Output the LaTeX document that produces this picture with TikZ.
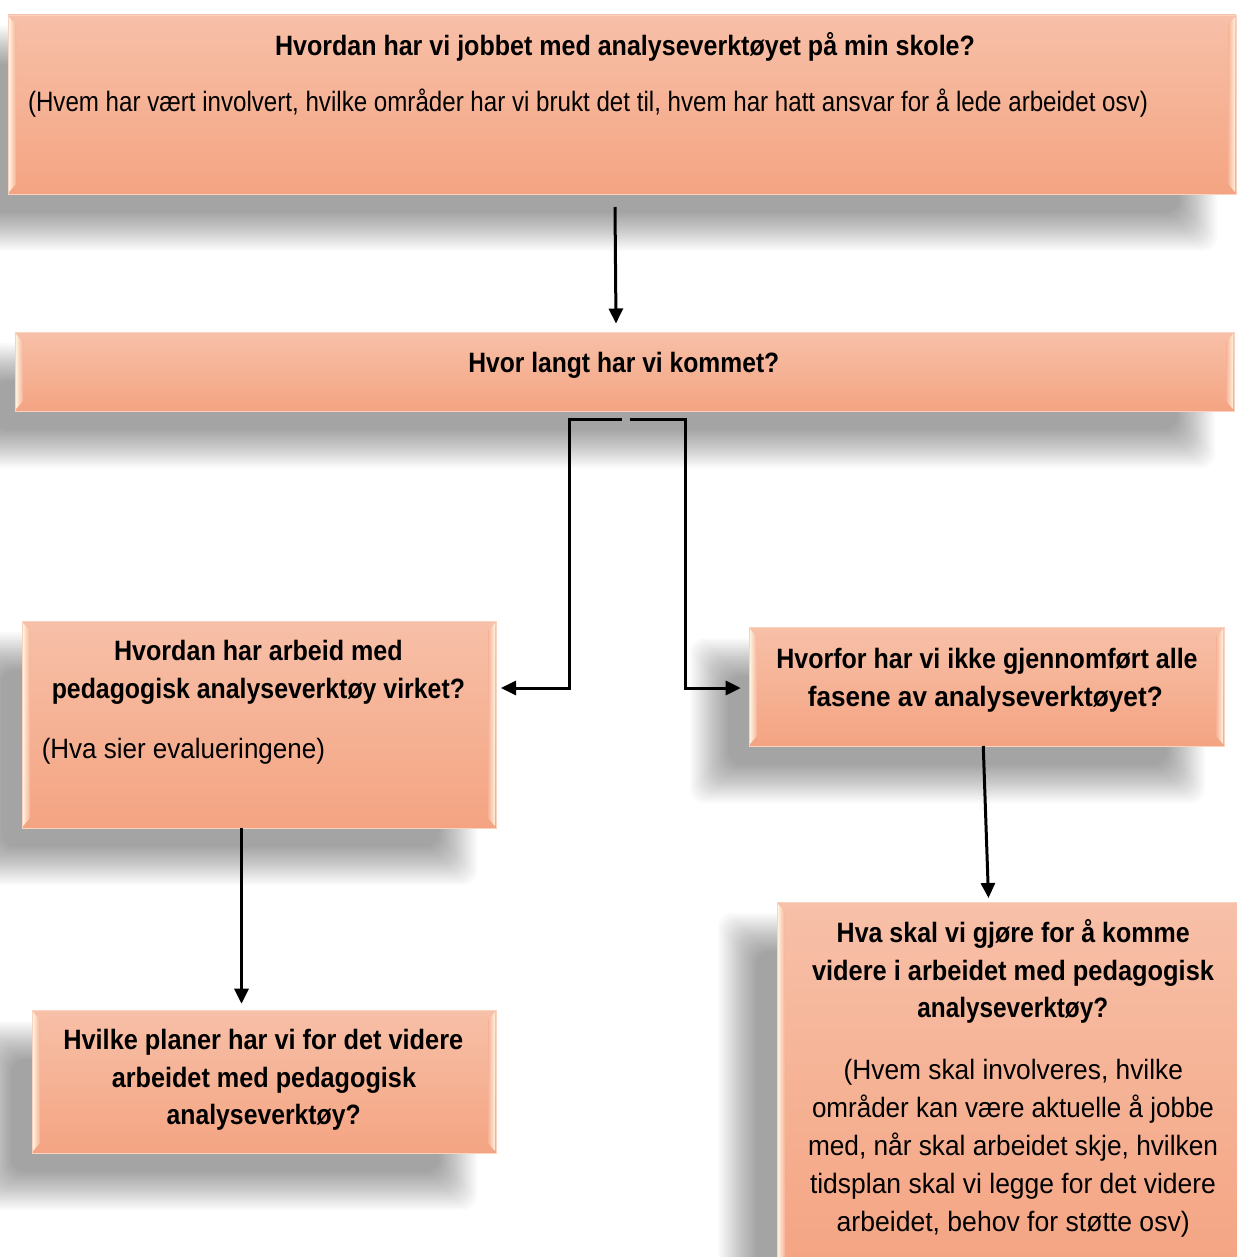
\documentclass[tikz,border=0pt]{standalone}
\usepackage{fontspec}
\setmainfont{Liberation Sans}
\usepackage{graphicx}
\usetikzlibrary{arrows.meta,calc}

\definecolor{boxtop}{HTML}{F7C0A8}
\definecolor{boxbot}{HTML}{F4A482}
\definecolor{boxmid}{HTML}{F6B295}
\definecolor{bevlight}{HTML}{FFF1DE}
\definecolor{boxedge}{HTML}{FAD2C0}

\newcommand\fitw[2]{\setbox0=\hbox{#2}\edef\fitwd{\the\wd0}\pgfmathsetmacro\fitfac{#1/\fitwd}\scalebox{\fitfac}[1]{\box0}}

\newcommand\boxshadow[4]{%
  \foreach \k in {0,...,19}{%
    \pgfmathsetmacro\e{19-2*\k}%
    \fill[black,opacity=0.018,rounded corners=14pt] ({#1-40-\e},{#2+30-\e}) rectangle ({#3-38+\e},{#4+38+\e});
  }}

\newcommand\flowbox[5]{%
  \node[flow, minimum width={(#4-#2)*1pt}, minimum height={(#5-#3)*1pt}, anchor=north west] (#1) at (#2,#3) {};
  \shade[left color=bevlight, right color=boxmid] ({#2+1},{#3+2}) -- ({#2+8},{#3+10}) -- ({#2+8},{#5-10}) -- ({#2+1},{#5-2}) -- cycle;
  \shade[left color=boxmid, right color=bevlight] ({#4-1},{#3+2}) -- ({#4-8},{#3+10}) -- ({#4-8},{#5-10}) -- ({#4-1},{#5-2}) -- cycle;
}

\newcommand\tline[6]{\node[#1] (#2) at (#3,#4) {\fitw{#5}{#6}};}

\tikzset{
  flow/.style={rectangle, inner sep=0pt, outer sep=0pt, top color=boxtop, bottom color=boxbot, draw=boxedge, line width=0.8pt},
  hd/.style={inner sep=0pt, anchor=base, font=\fontsize{28}{30}\selectfont\bfseries},
  bd/.style={inner sep=0pt, anchor=base, font=\fontsize{28}{30}\selectfont},
  conn/.style={line width=3pt, -{Triangle[length=15pt,width=14pt]}}
}

\begin{document}
\begin{tikzpicture}[x=1pt,y=-1pt]
\useasboundingbox (0,0) rectangle (1236,1257);
\fill[white] (0,0) rectangle (1236,1257);

% shadows
\boxshadow{8}{15}{1236}{194}
\boxshadow{15}{332}{1234}{411}
\boxshadow{22}{621}{496}{828}
\boxshadow{749}{627}{1224}{746}
\boxshadow{32}{1010}{496}{1153}
\boxshadow{777}{902}{1250}{1275}

% boxes
\flowbox{b1}{8}{15}{1236}{194}
\flowbox{b2}{15}{332}{1234}{411}
\flowbox{b3}{22}{621}{496}{828}
\flowbox{b4}{749}{627}{1224}{746}
\flowbox{b5}{32}{1010}{496}{1153}
\flowbox{b6}{777}{902}{1250}{1275}

% texts
\tline{hd}{t1a}{625}{55.5}{700}{Hvordan har vi jobbet med analyseverktøyet på min skole?}
\tline{bd}{t1b}{588}{112}{1120}{(Hvem har vært involvert, hvilke områder har vi brukt det til, hvem har hatt ansvar for å lede arbeidet osv)}
\tline{hd}{t2}{623.8}{372}{311}{Hvor langt har vi kommet?}
\tline{hd}{t3a}{258.4}{660.5}{288.7}{Hvordan har arbeid med}
\tline{hd}{t3b}{258.4}{698}{413.3}{pedagogisk analyseverktøy virket?}
\tline{bd}{t3c}{183.4}{758}{283.3}{(Hva sier evalueringene)}
\tline{hd}{t4a}{987}{668.3}{421.3}{Hvorfor har vi ikke gjennomført alle}
\tline{hd}{t4b}{985.3}{706.5}{355}{fasene av analyseverktøyet?}
\tline{hd}{t5a}{263.3}{1049.7}{400}{Hvilke planer har vi for det videre}
\tline{hd}{t5b}{263.9}{1087}{304.3}{arbeidet med pedagogisk}
\tline{hd}{t5c}{263.7}{1124.5}{194}{analyseverktøy?}
\tline{hd}{t6a}{1013.2}{942.7}{353}{Hva skal vi gjøre for å komme}
\tline{hd}{t6b}{1013}{980}{402}{videre i arbeidet med pedagogisk}
\tline{hd}{t6c}{1012.8}{1017}{191}{analyseverktøy?}
\tline{bd}{t6d}{1013.3}{1079}{339.5}{(Hvem skal involveres, hvilke}
\tline{bd}{t6e}{1013}{1117}{402}{områder kan være aktuelle å jobbe}
\tline{bd}{t6f}{1013}{1155}{410}{med, når skal arbeidet skje, hvilken}
\tline{bd}{t6g}{1013}{1193}{406}{tidsplan skal vi legge for det videre}
\tline{bd}{t6h}{1013.2}{1231}{353}{arbeidet, behov for støtte osv)}

% connectors
\draw[conn] ([xshift=-7pt,yshift=-13pt]b1.south) -- ([xshift=-8.5pt,yshift=8.5pt]b2.north);
\coordinate (l1) at ([xshift=5pt,yshift=36.5pt]b3.east);
\coordinate (r1) at ([xshift=-8.3pt,yshift=-1.5pt]b4.west);
\draw[conn] ([xshift=-3pt,yshift=-8.5pt]b2.south) -| ($(l1)+(68,0)$) -- (l1);
\draw[conn] ([xshift=5pt,yshift=-8.5pt]b2.south) -| ($(r1)+(-55.7,0)$) -- (r1);
\draw[conn] ([xshift=-17.5pt]b3.south) -- ([xshift=-22.5pt,yshift=6.3pt]b5.north);
\draw[conn] ([xshift=-3.25pt]b4.south) -- ([xshift=-25pt,yshift=4pt]b6.north);
\end{tikzpicture}
\end{document}
